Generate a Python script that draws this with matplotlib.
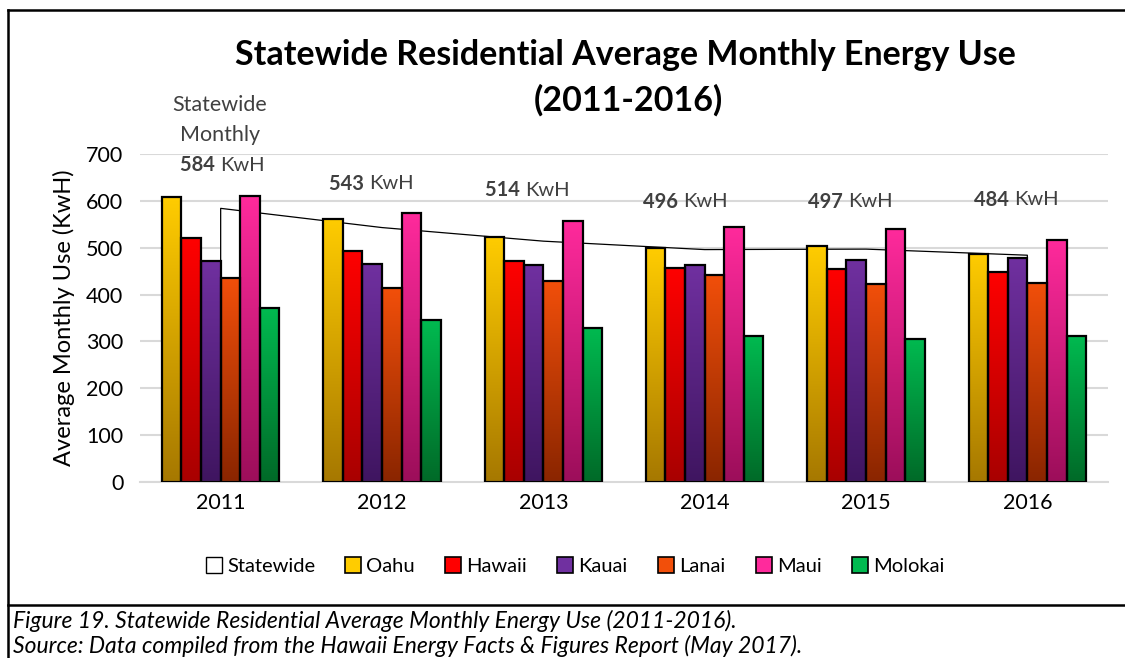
import numpy as np
import matplotlib
matplotlib.use('Agg')
import matplotlib.pyplot as plt
from matplotlib.colors import LinearSegmentedColormap
from matplotlib.lines import Line2D
from matplotlib.patches import Patch

plt.rcParams['font.family'] = ['Lato', 'DejaVu Sans']

# ---- data ----
years = ['2011', '2012', '2013', '2014', '2015', '2016']
statewide = [584, 543, 514, 496, 497, 484]
oahu = [608, 562, 523, 499, 503, 487]
hawaii = [521, 494, 472, 457, 454, 449]
kauai = [472, 466, 463, 463, 474, 477]
lanai = [436, 413, 429, 442, 423, 425]
maui = [611, 574, 557, 544, 540, 517]
molokai = [372, 345, 329, 312, 306, 312]

islands = ['Oahu', 'Hawaii', 'Kauai', 'Lanai', 'Maui', 'Molokai']
island_vals = [oahu, hawaii, kauai, lanai, maui, molokai]
# gradient colours (top, bottom)
grad = [('#FFCC00', '#A67800'), ('#FF0000', '#A80000'), ('#7030A0', '#3F1560'),
        ('#F24F0A', '#8A2500'), ('#FF2A9C', '#9C0E5A'), ('#00BA50', '#006A28')]

# annotation split points (x in category units, y in data units)
label_x = [-0.004, 0.919, 1.886, 2.866, 3.888, 4.917]
label_y = [676, 636, 623, 598, 598, 602]

fig = plt.figure(figsize=(11.25, 6.58), dpi=100)
ax = fig.add_axes([140/1125, 1-482/658, 968/1125, 328/658])

x = np.arange(len(years))
width = 0.1215

# statewide area (white fill, black outline)
ax.fill_between(x, 0, statewide, color='white', zorder=1.5)
ax.plot(np.r_[x[0], x, x[-1]], np.r_[0, statewide, 0], color='black', lw=0.9, zorder=1.6)

for i, (name, vals, (ctop, cbot)) in enumerate(zip(islands, island_vals, grad)):
    offs = x + (i - 2.5) * width
    bars = ax.bar(offs, vals, width, facecolor='none', edgecolor='black',
                  linewidth=1.6, zorder=3)
    cmap = LinearSegmentedColormap.from_list(name, [cbot, ctop])
    g = np.linspace(0, 1, 256).reshape(-1, 1)
    for b in bars:
        x0, w, h = b.get_x(), b.get_width(), b.get_height()
        im = ax.imshow(g, cmap=cmap, origin='lower', aspect='auto',
                       extent=[x0, x0 + w, 0, h], zorder=2.5)
        im.set_clip_path(b)

ax.set_xlim(-0.5, 5.5)
ax.set_ylim(0, 700)
ax.set_yticks(range(0, 701, 100))
ax.set_xticks(x)
ax.set_xticklabels(years)
ax.tick_params(axis='both', length=0, labelsize=15.5, pad=8)
ax.tick_params(axis='y', pad=12)
ax.grid(axis='y', color='#D9D9D9', lw=1.5, zorder=0)
ax.set_axisbelow(True)
for s in ['top', 'right', 'left']:
    ax.spines[s].set_visible(False)
ax.spines['bottom'].set_color('#D9D9D9')
ax.spines['bottom'].set_linewidth(1.5)
ax.set_ylabel('Average Monthly Use (KwH)', fontsize=17, labelpad=8)

# statewide value labels
ax.text(label_x[0], 804, 'Statewide', ha='center', va='center', fontsize=15.5,
        color='#404040', clip_on=False)
ax.text(label_x[0], 740, 'Monthly', ha='center', va='center', fontsize=15.5,
        color='#404040', clip_on=False)
for lx, ly, v in zip(label_x, label_y, statewide):
    ax.text(lx, ly, f'{v} ', ha='right', va='center', fontsize=14.5, fontweight='bold',
            color='#404040', clip_on=False)
    ax.text(lx, ly, 'KwH', ha='left', va='center', fontsize=14.5,
            color='#404040', clip_on=False)

# title
fig.text(625/1125, 1-55/658, 'Statewide Residential Average Monthly Energy Use',
         ha='center', va='center', fontsize=24.5, fontweight='bold')
fig.text(628/1125, 1-100/658, '(2011-2016)',
         ha='center', va='center', fontsize=24.5, fontweight='bold')

# legend
handles = [Patch(facecolor='white', edgecolor='black', lw=1)]
handles += [Patch(facecolor=c[0], edgecolor='black', lw=1.2) for c in grad]
fig.legend(handles, ['Statewide'] + islands, loc='center', ncol=7,
           bbox_to_anchor=(575/1125, 1-566/658), frameon=False, fontsize=14.5,
           handlelength=0.8, handleheight=0.8, handletextpad=0.25,
           columnspacing=1.5)

# frame and caption
fx0 = 8/1125
fig.add_artist(Line2D([fx0, 1.0], [1-10/658, 1-10/658], color='black', lw=1.8))
fig.add_artist(Line2D([fx0, fx0], [1-10/658, 0], color='black', lw=1.8))
fig.add_artist(Line2D([fx0, 1.0], [1-605/658, 1-605/658], color='black', lw=1.8))
fig.text(13/1125, 1-621/658, 'Figure 19. Statewide Residential Average Monthly Energy Use (2011-2016).',
         ha='left', va='center', fontsize=16.5, style='italic')
fig.text(13/1125, 1-646/658, 'Source: Data compiled from the Hawaii Energy Facts & Figures Report (May 2017).',
         ha='left', va='center', fontsize=16.5, style='italic')

fig.savefig('out.png', dpi=100)
